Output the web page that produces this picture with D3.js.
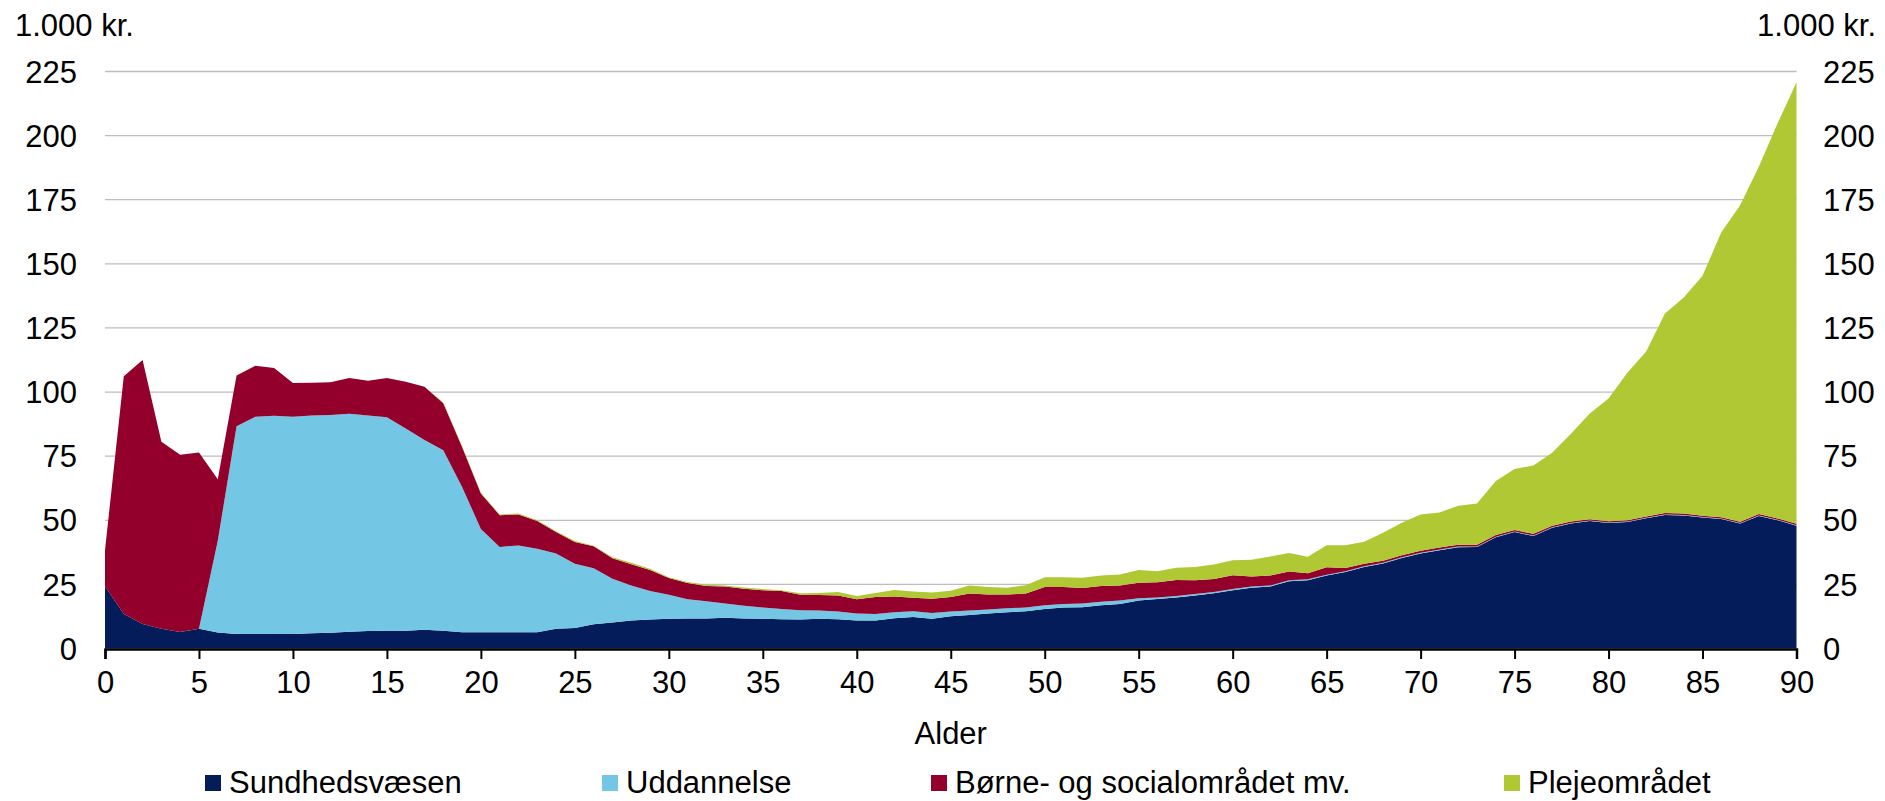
<!DOCTYPE html>
<html>
<head>
<meta charset="utf-8">
<script src="https://cdn.jsdelivr.net/npm/d3@7"></script>
<style>
	body { margin: 0; background: white; }
	text { font-family: "Liberation Sans", Arial, sans-serif; fill: black; }
</style>
</head>
<body>
<div id="chart"></div>
<script>

/***************************************************************************/
/********************************************************** DONNEES *****/
/***************************************************************************/

const alder = d3.range(0, 91);

const sundhed = [
	24.3, 13.5, 9.6, 7.7, 6.4, 7.7, 6.2, 5.7, 5.7, 5.7,
	5.7, 5.9, 6.1, 6.5, 6.8, 6.9, 6.9, 7.3, 6.9, 6.3,
	6.3, 6.3, 6.3, 6.3, 7.7, 8.0, 9.5, 10.1, 10.9, 11.3,
	11.6, 11.7, 11.7, 12.0, 11.7, 11.6, 11.4, 11.3, 11.6, 11.4,
	10.9, 10.9, 11.8, 12.3, 11.6, 12.6, 13.1, 13.6, 14.1, 14.5,
	15.4, 16.0, 16.1, 16.9, 17.4, 18.7, 19.3, 19.9, 20.7, 21.5,
	22.7, 23.7, 24.2, 26.2, 26.6, 28.5, 29.8, 31.8, 33.1, 35.3,
	37.0, 38.3, 39.5, 39.6, 43.4, 45.4, 43.9, 47.1, 48.7, 49.7,
	48.9, 49.3, 50.8, 52.1, 51.9, 51.1, 50.5, 48.7, 51.7, 50.0,
	47.9
];

const uddannelse = [
	0, 0, 0, 0, 0, 0, 35.8, 81.0, 84.7, 85.1,
	84.7, 85.0, 85.0, 85.0, 84.1, 83.3, 78.9, 74.0, 70.4, 56.7,
	40.3, 33.3, 33.9, 32.6, 29.3, 25.0, 21.8, 17.1, 13.7, 11.1,
	9.4, 7.5, 6.7, 5.5, 5.0, 4.4, 4.0, 3.6, 3.2, 3.0,
	2.7, 2.6, 2.3, 2.2, 2.2, 1.8, 1.7, 1.6, 1.6, 1.5,
	1.5, 1.4, 1.4, 1.3, 1.3, 0.9, 0.6, 0.6, 0.6, 0.5,
	0.5, 0.5, 0.4, 0.4, 0.4, 0.3, 0.3, 0.3, 0.3, 0.3,
	0.3, 0.3, 0.3, 0.2, 0.2, 0.2, 0.2, 0.2, 0.2, 0.2,
	0.2, 0.2, 0.2, 0.2, 0.2, 0.2, 0.2, 0.2, 0.2, 0.2,
	0.2
];

const boerne = [
	14.0, 92.7, 102.9, 72.9, 69.2, 68.7, 24.0, 19.8, 19.9, 18.6,
	13.1, 12.7, 12.7, 14.0, 13.5, 15.3, 18.2, 20.8, 18.3, 15.6,
	13.8, 12.4, 12.1, 10.8, 8.4, 8.5, 8.6, 8.0, 8.3, 8.2,
	6.5, 6.3, 6.0, 6.7, 6.6, 6.7, 7.0, 6.1, 6.1, 6.3,
	5.6, 6.6, 6.2, 5.3, 5.6, 5.7, 6.6, 5.9, 5.4, 5.4,
	7.1, 6.6, 6.1, 6.2, 5.9, 6.0, 5.9, 6.2, 5.3, 5.1,
	5.4, 3.9, 3.9, 3.4, 2.3, 2.9, 1.3, 0.9, 0.8, 0.8,
	0.8, 0.8, 0.7, 0.7, 0.7, 0.6, 0.6, 0.6, 0.6, 0.5,
	0.5, 0.5, 0.5, 0.5, 0.5, 0.5, 0.5, 0.5, 0.5, 0.5,
	0.5
];

const pleje = [
	0, 0, 0, 0, 0, 0, 0, 0, 0, 0,
	0, 0, 0, 0, 0, 0, 0, 0, 0.3, 0.3,
	0.3, 0.3, 0.3, 0.3, 0.3, 0.4, 0.2, 0.4, 0.5, 0.5,
	0.3, 0.4, 0.5, 0.4, 0.5, 0.5, 0.3, 0.5, 0.7, 1.3,
	1.3, 1.5, 2.5, 2.4, 2.4, 2.4, 3.2, 2.9, 2.6, 3.3,
	3.8, 3.8, 4.0, 4.1, 4.3, 5.0, 4.3, 4.8, 5.2, 5.7,
	5.8, 6.5, 7.4, 7.2, 6.5, 8.6, 8.9, 8.6, 10.9, 12.6,
	14.2, 13.6, 15.2, 16.0, 21.0, 23.8, 26.7, 28.4, 34.2, 41.2,
	47.9, 57.5, 64.3, 77.8, 84.3, 93.6, 111.1, 123.4, 135.6, 154.2,
	172.2
];

const serier = ["Sundhedsvæsen", "Uddannelse", "Børne- og socialområdet mv.", "Plejeområdet"];
const farver = ["#041c59", "#73c7e4", "#93002b", "#b0c834"];
const yTicks = [0, 25, 50, 75, 100, 125, 150, 175, 200, 225];
const xTicks = d3.range(0, 91, 5);

// table pour d3.stack
const table = alder.map(function(a, i) {
	return {
		alder: a,
		"Sundhedsvæsen": sundhed[i],
		"Uddannelse": uddannelse[i],
		"Børne- og socialområdet mv.": boerne[i],
		"Plejeområdet": pleje[i]
	};
});

/***************************************************************************/
/************************************************* CREATION DU GRAPHE *****/
/***************************************************************************/

const width = 1885, height = 801;

const svg = d3.select("#chart")
	.append("svg")
	.attr("width", width)
	.attr("height", height);

const x = d3.scaleLinear().domain([0, 90]).range([105, 1796.5]);
const y = d3.scaleLinear().domain([0, 225]).range([648.5, 71.5]);
const couleur = d3.scaleOrdinal().domain(serier).range(farver);

// lignes de grille
svg.append("g")
	.selectAll("line")
	.data(yTicks.filter(function(d) { return d > 0; }))
	.enter()
	.append("line")
	.attr("x1", x(0))
	.attr("x2", x(90))
	.attr("y1", function(d) { return y(d); })
	.attr("y2", function(d) { return y(d); })
	.style("stroke", "#bdbdbd")
	.style("stroke-width", 1.3);

// aires empilées
const stack = d3.stack().keys(serier);
const area = d3.area()
	.x(function(d) { return x(d.data.alder); })
	.y0(function(d) { return y(d[0]); })
	.y1(function(d) { return y(d[1]); });

svg.append("g")
	.selectAll("path")
	.data(stack(table))
	.enter()
	.append("path")
	.attr("d", area)
	.style("fill", function(d) { return couleur(d.key); });

// axe x
const axeX = svg.append("g")
	.attr("transform", "translate(0," + 649 + ")")
	.call(d3.axisBottom(x).tickValues(xTicks).tickSize(10).tickPadding(10).tickFormat(d3.format("d")));
axeX.select(".domain").style("stroke", "black").style("stroke-width", 2.5);
axeX.selectAll(".tick line").style("stroke", "black").style("stroke-width", 2);
axeX.selectAll("text").style("font-size", "31px").attr("dy", "0.78em");

// axe y gauche et droit
svg.append("g")
	.selectAll("text")
	.data(yTicks)
	.enter()
	.append("text")
	.attr("x", 77)
	.attr("y", function(d) { return y(d); })
	.attr("dy", "0.36em")
	.style("text-anchor", "end")
	.style("font-size", "31px")
	.text(function(d) { return d; });

svg.append("g")
	.selectAll("text")
	.data(yTicks)
	.enter()
	.append("text")
	.attr("x", 1823)
	.attr("y", function(d) { return y(d); })
	.attr("dy", "0.36em")
	.style("text-anchor", "start")
	.style("font-size", "31px")
	.text(function(d) { return d; });

svg.append("text")
	.attr("x", 15)
	.attr("y", 36)
	.style("font-size", "31px")
	.text("1.000 kr.");

svg.append("text")
	.attr("x", 1876)
	.attr("y", 36)
	.style("text-anchor", "end")
	.style("font-size", "31px")
	.text("1.000 kr.");

svg.append("text")
	.attr("x", (x(0) + x(90)) / 2)
	.attr("y", 744)
	.style("text-anchor", "middle")
	.style("font-size", "31px")
	.text("Alder");

/***************************************************************************/
/*************************************************************** LEGENDE *****/
/***************************************************************************/

const legX = [205, 602, 931, 1504];

const legende = svg.append("g")
	.selectAll("g")
	.data(serier)
	.enter()
	.append("g")
	.attr("transform", function(d, i) { return "translate(" + legX[i] + ",775)"; });

legende.append("rect")
	.attr("width", 16)
	.attr("height", 16)
	.style("fill", function(d) { return couleur(d); });

legende.append("text")
	.attr("x", 24)
	.attr("y", 18)
	.style("font-size", "31px")
	.text(function(d) { return d; });

</script>
</body>
</html>
